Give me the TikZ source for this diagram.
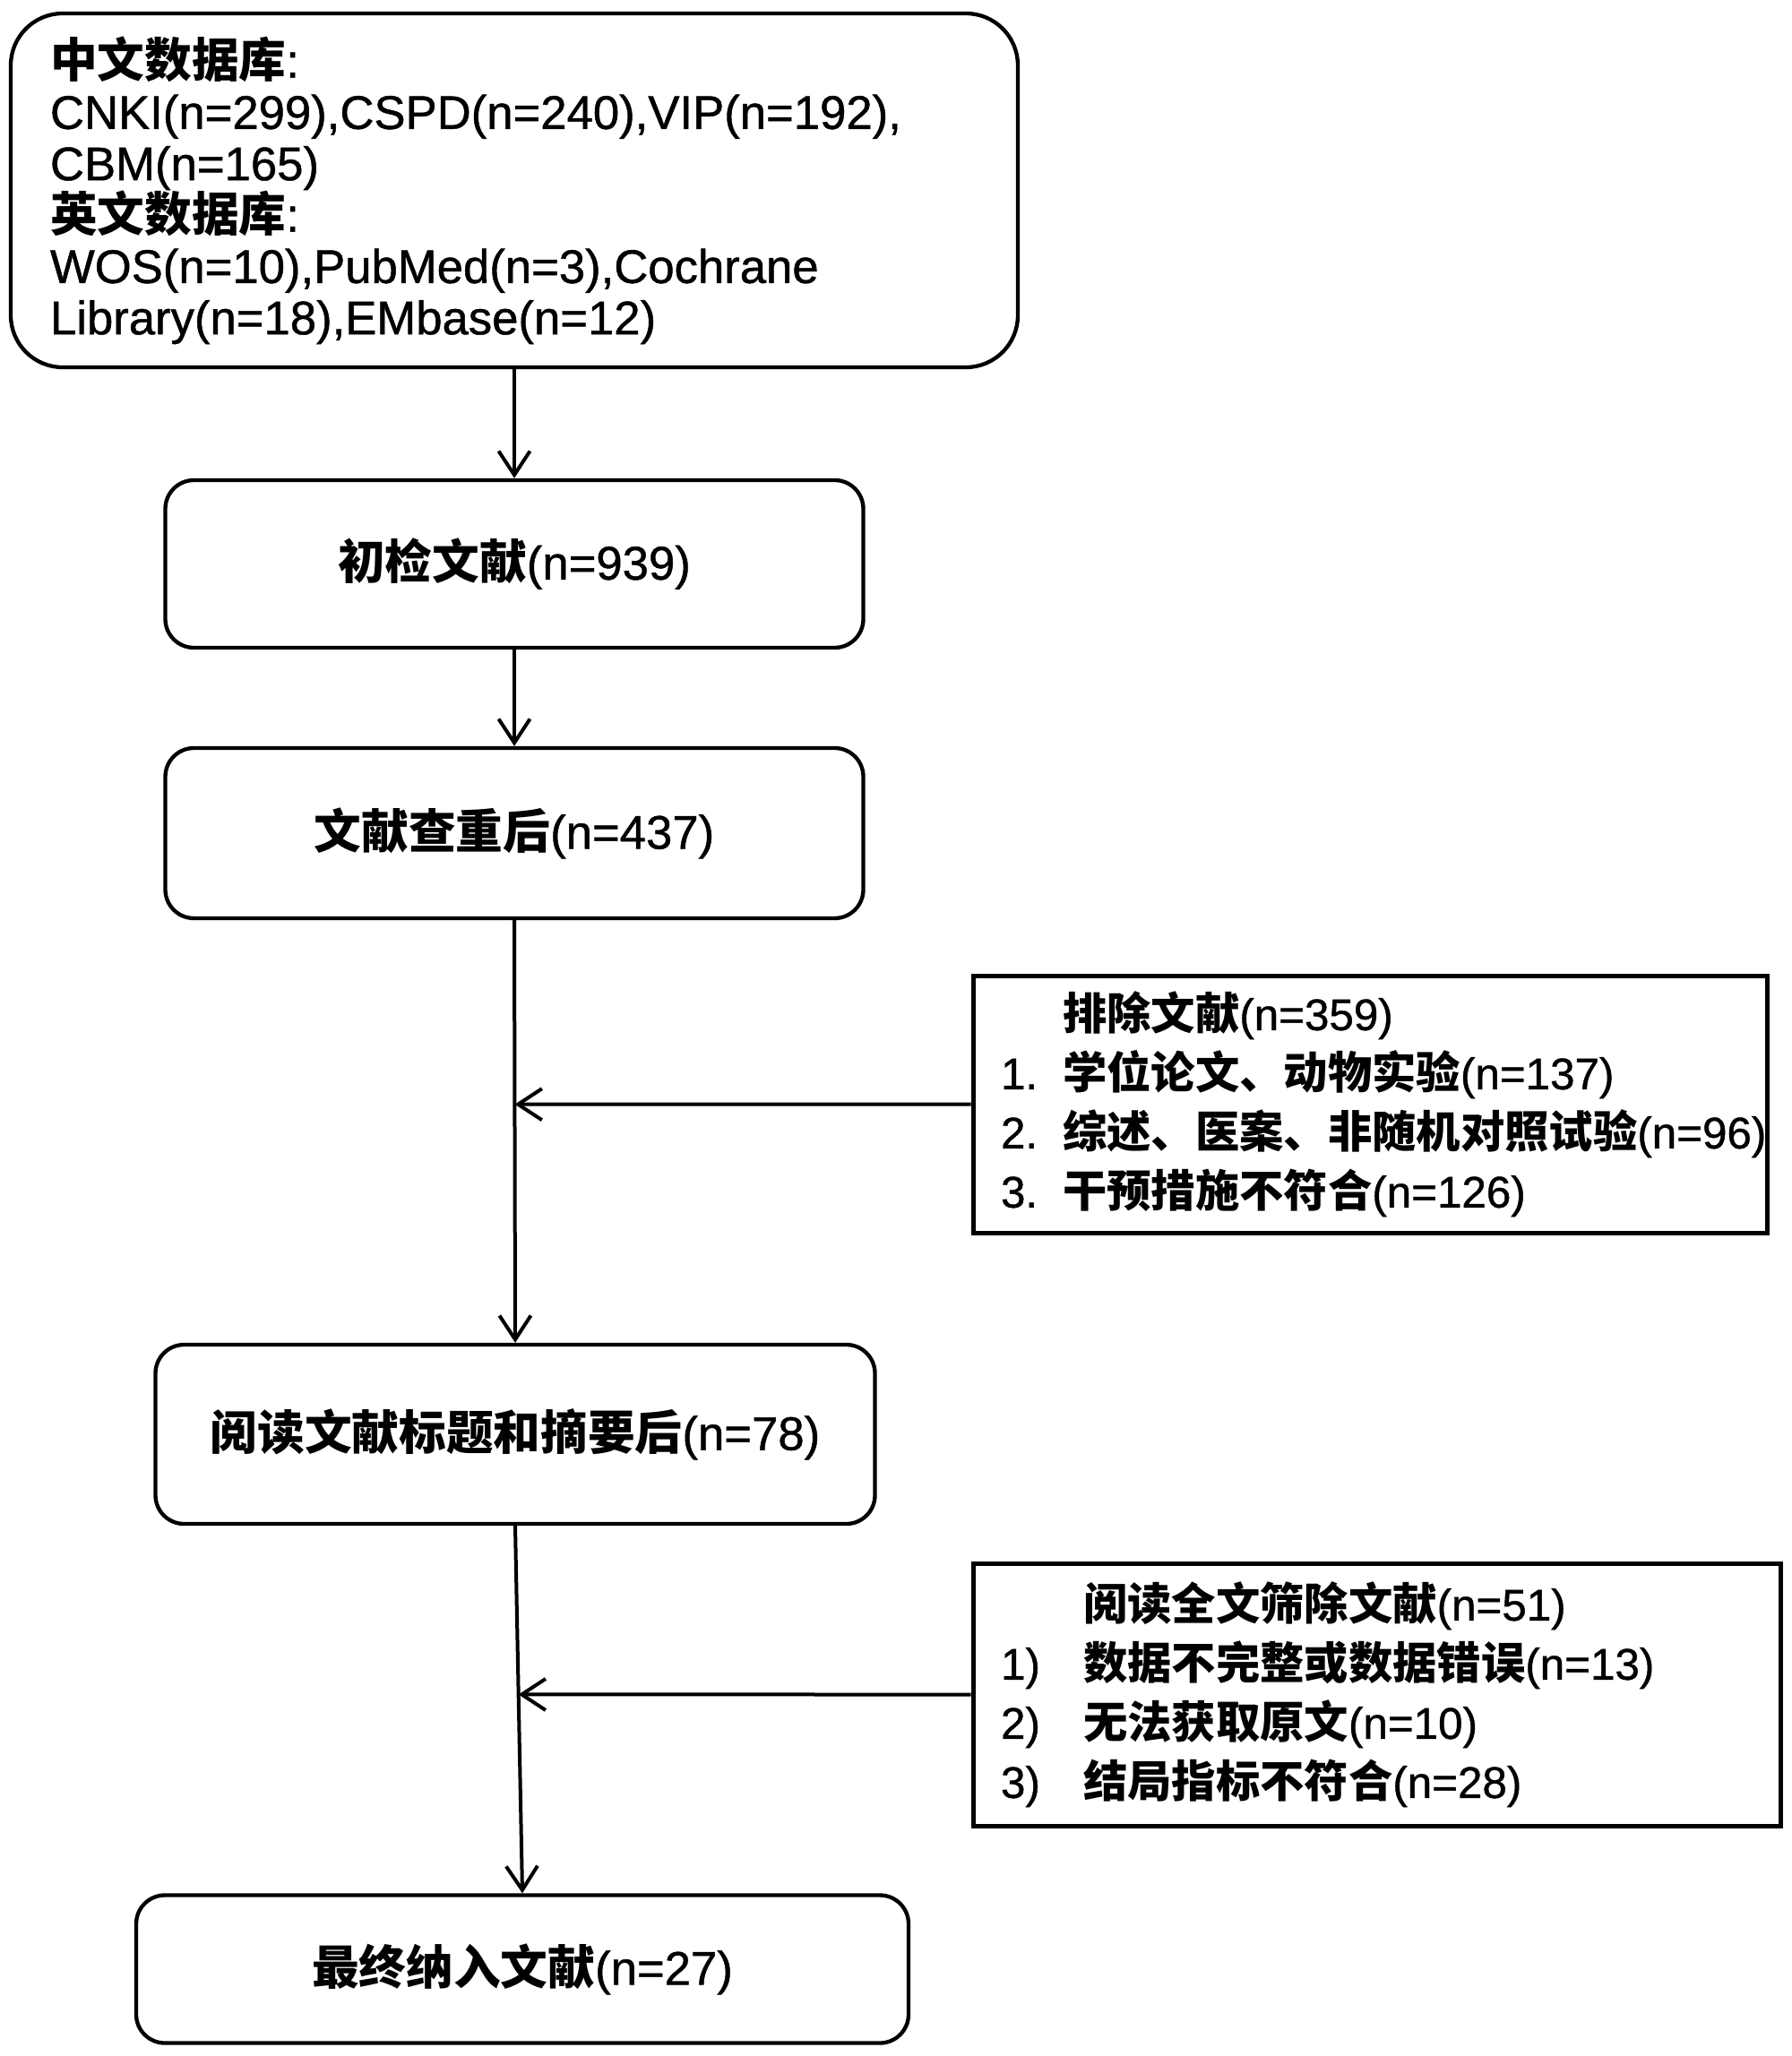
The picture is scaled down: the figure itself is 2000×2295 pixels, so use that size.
\documentclass[tikz,border=0pt]{standalone}
\usepackage{fontspec}
\setmainfont{Liberation Sans}[BoldFont={Liberation Sans},BoldFeatures={FakeBold=0.9}]
\newfontfamily\zh{Noto Sans CJK SC Bold}
\usetikzlibrary{arrows.meta,calc}

\begin{document}
\begin{tikzpicture}[x=0.3pt,y=-0.3pt,
    box/.style={draw,line width=1.3pt,rounded corners=9.6pt,align=center,inner sep=0pt,
        font=\fontsize{15.8}{17.2}\selectfont\bfseries},
    exbox/.style={draw,line width=1.5pt,align=left,inner xsep=9.3pt,inner ysep=0pt,
        font=\fontsize{14.8}{19.8}\selectfont\bfseries},
    flow/.style={-{Straight Barb[length=8pt,width=10.5pt]},line width=1.2pt}]

        \useasboundingbox (0,0) rectangle (2000,2295);

        % Databases
        \node[box,rounded corners=17.4pt,minimum width=337.2pt,minimum height=118.5pt,
            text width=310.8pt,inner xsep=13.2pt,align=left] (db) at (574,212.5)
            {{\zh 中文数据库}:\\CNKI(n=299),CSPD(n=240),VIP(n=192),\\CBM(n=165)\\
             {\zh 英文数据库}:\\WOS(n=10),PubMed(n=3),Cochrane\\Library(n=18),EMbase(n=12)};

        % Main flow
        \node[box,minimum width=233.7pt,minimum height=56.1pt] (init) at (574,629.5)
            {{\zh 初检文献}(n=939)};
        \node[box,minimum width=233.7pt,minimum height=57pt] (dedup) at (574,930)
            {{\zh 文献查重后}(n=437)};
        \node[box,minimum width=240.9pt,minimum height=60pt] (screen) at (575,1601)
            {{\zh 阅读文献标题和摘要后}(n=78)};
        \node[box,minimum width=258.6pt,minimum height=49.5pt] (final) at (583,2198)
            {{\zh 最终纳入文献}(n=27)};

        % Exclusions
        \node[exbox,minimum width=265.8pt,minimum height=86.1pt,text width=247.2pt] (exc1) at (1529,1232.5)
            {\hspace*{20.7pt}{\zh 排除文献}(n=359)\\
             \makebox[20.7pt][l]{1.}{\zh 学位论文、动物实验}(n=137)\\
             \makebox[20.7pt][l]{2.}{\zh 综述、医案、非随机对照试验}(n=96)\\
             \makebox[20.7pt][l]{3.}{\zh 干预措施不符合}(n=126)};
        \node[exbox,minimum width=270.3pt,minimum height=87.9pt,text width=251.7pt] (exc2) at (1536.5,1891.5)
            {\hspace*{27.6pt}{\zh 阅读全文筛除文献}(n=51)\\
             \makebox[27.6pt][l]{1)}{\zh 数据不完整或数据错误}(n=13)\\
             \makebox[27.6pt][l]{2)}{\zh 无法获取原文}(n=10)\\
             \makebox[27.6pt][l]{3)}{\zh 结局指标不符合}(n=28)};

        % Arrows
        \draw[flow] (db) -- (init);
        \draw[flow] (init) -- (dedup);
        \draw[flow] (dedup.south) -- (screen.north);
        \draw[flow] (screen.south) -- (final.north);

        \coordinate (h1) at (exc1.west -| screen.north);
        \coordinate (h2) at (exc2.west -| final.north);
        \coordinate (j1) at (intersection of dedup.south--screen.north and exc1.west--h1);
        \coordinate (j2) at (intersection of screen.south--final.north and exc2.west--h2);
        \draw[flow] (exc1.west) -- (j1);
        \draw[flow] (exc2.west) -- (j2);

    \end{tikzpicture}
\end{document}
